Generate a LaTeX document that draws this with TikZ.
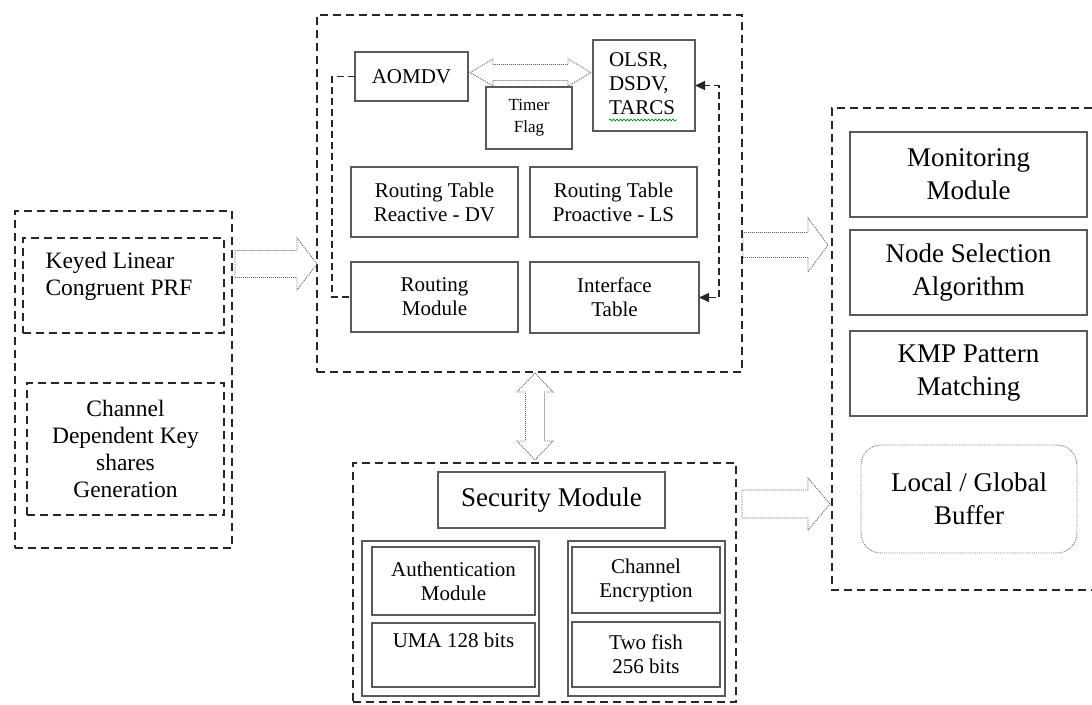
\documentclass[tikz,border=0pt]{standalone}
\usepackage{fontspec}
\setmainfont{Liberation Serif}
\usetikzlibrary{arrows.meta,calc,decorations.pathmorphing}

% hollow block arrows: #1 start, #2 tip, #3 half shaft, #4 half head, #5 head length
\newcommand{\rblock}[5]{\draw[hollow] ($(#1)+(0,#3)$) -- ($(#2)+(-#5,#3)$) -- ($(#2)+(-#5,#4)$) -- (#2)
  -- ($(#2)+(-#5,-#4)$) -- ($(#2)+(-#5,-#3)$) -- ($(#1)+(0,-#3)$) -- cycle;}
\newcommand{\hdblock}[5]{\draw[hollow] (#1) -- ($(#1)+(#5,-#4)$) -- ($(#1)+(#5,-#3)$) -- ($(#2)+(-#5,-#3)$)
  -- ($(#2)+(-#5,-#4)$) -- (#2) -- ($(#2)+(-#5,#4)$) -- ($(#2)+(-#5,#3)$) -- ($(#1)+(#5,#3)$) -- ($(#1)+(#5,#4)$) -- cycle;}
\newcommand{\vdblock}[5]{\draw[hollow] (#1) -- ($(#1)+(#4,#5)$) -- ($(#1)+(#3,#5)$) -- ($(#2)+(#3,-#5)$)
  -- ($(#2)+(#4,-#5)$) -- (#2) -- ($(#2)+(-#4,-#5)$) -- ($(#2)+(-#3,-#5)$) -- ($(#1)+(-#3,#5)$) -- ($(#1)+(-#4,#5)$) -- cycle;}

\begin{document}
\begin{tikzpicture}[x=1pt,y=-1pt,
    box/.style={draw=black!65, line width=1.1pt, inner sep=0pt, outer sep=0pt, align=center},
    grp/.style={draw=black!85, line width=1.8pt, dash pattern=on 8pt off 5pt, inner sep=0pt, outer sep=0pt, align=center},
    dashline/.style={draw=black!85, line width=1.4pt, dash pattern=on 7pt off 4pt},
    hollow/.style={draw=black!60, line width=0.9pt, dash pattern=on 1pt off 1pt},
    tiny/.style={font=\fontsize{17}{22}\selectfont},
    small/.style={font=\fontsize{21}{24}\selectfont},
    mid/.style={font=\fontsize{23.5}{27}\selectfont},
    big/.style={font=\fontsize{27}{33}\selectfont},
    >={Triangle[length=10pt,width=9pt]}]
\useasboundingbox (0,0) rectangle (1092,704);

% key generation
\node[grp, minimum width=217pt, minimum height=337pt] (keygrp) at (123.5,379.5) {};
\node[grp, mid, minimum width=201pt, minimum height=95pt] (keyprf) at (123.5,285.5) {};
\node[mid, align=left] at (119,276) {Keyed Linear\\Congruent PRF};
\node[grp, mid, minimum width=197pt, minimum height=132pt] (keyshare) at (125.5,449)
  {Channel\\Dependent Key\\shares\\Generation};

% routing
\node[grp, minimum width=425pt, minimum height=357pt] (routegrp) at (529.5,193.5) {};
\node[box, small, minimum width=113pt, minimum height=49pt] (aomdv) at (411.5,76.5) {AOMDV};
\node[box, small, minimum width=102pt, minimum height=91pt] (olsr) at (644,85.5) {};
\node[small, align=left] at (642,84) {OLSR,\\DSDV,\\TARCS};
\node[box, tiny, minimum width=86pt, minimum height=62pt] (timer) at (529,118) {Timer\\Flag};
\node[box, small, minimum width=167pt, minimum height=70pt] (rtreact) at (434.5,202) {Routing Table\\Reactive - DV};
\node[box, small, minimum width=167pt, minimum height=70pt] (rtpro) at (613.5,202) {Routing Table\\Proactive - LS};
\node[box, small, minimum width=167pt, minimum height=70pt] (routmod) at (434.5,297) {Routing\\Module};
\node[box, small, minimum width=169pt, minimum height=71pt] (iface) at (614.5,297.5) {Interface\\Table};
\draw[green!55!black, line width=0.7pt, decorate, decoration={snake, amplitude=0.9pt, segment length=3.5pt}]
  (609,120) -- (677,120);

\draw[dashline] (aomdv.west) -- ++(-23,0) |- (routmod.west);
\draw[dashline, <->] (iface.east) -- ++(20,0) |- (olsr.east);

% security
\node[grp, minimum width=383pt, minimum height=239pt] (secgrp) at (544.5,582.5) {};
\node[box, font=\fontsize{27}{30}\selectfont, minimum width=227pt, minimum height=56pt] (secmod) at (551.5,500) {Security Module};
\node[box, minimum width=177pt, minimum height=155pt] (authgrp) at (450.5,618.5) {};
\node[box, small, minimum width=163pt, minimum height=68pt] (auth) at (453.5,581) {Authentication\\Module};
\node[box, small, minimum width=163pt, minimum height=64pt, text height=14pt, text depth=30pt] (uma) at (453.5,655) {UMA 128 bits};
\node[box, minimum width=157pt, minimum height=155pt] (encgrp) at (646.5,618.5) {};
\node[box, small, minimum width=148pt, minimum height=66pt] (enc) at (646,580) {Channel\\Encryption};
\node[box, small, minimum width=148pt, minimum height=65pt] (fish) at (646,654.5) {Two fish\\256 bits};

% monitoring
\coordinate (monitl) at (1092,108);
\coordinate (monibl) at (1092,590);
\draw[grp] (monitl) -- (832,108) -- (832,590) -- (monibl);
\node[box, big, minimum width=237pt, minimum height=85pt] (monitor) at (968.5,174.5) {Monitoring\\Module};
\node[box, big, minimum width=237pt, minimum height=85pt] (nodesel) at (968.5,272.5) {Node Selection\\Algorithm};
\node[box, big, minimum width=237pt, minimum height=85pt] (kmp) at (968.5,373.5) {KMP Pattern\\Matching};
\node[draw=black!55, line width=0.9pt, densely dotted, rounded corners=20pt, big, align=center,
  minimum width=216pt, minimum height=108pt, inner sep=0pt] (buffer) at (969,499) {Local / Global\\Buffer};

% block arrows
\coordinate (a1s) at (235,264);  \coordinate (a1t) at (317,264);
\coordinate (a2s) at (743,245);  \coordinate (a2t) at (828,245);
\coordinate (a3s) at (742,504);  \coordinate (a3t) at (830,504);
\coordinate (dhl) at ($(aomdv.east)+(2,-4)$);
\coordinate (dhr) at ($(olsr.west |- dhl)+(-2,0)$);
\coordinate (dvt) at (535,373);  \coordinate (dvb) at (535,460);
\rblock{a1s}{a1t}{13.5}{26}{20}
\rblock{a2s}{a2t}{12.5}{27}{20}
\rblock{a3s}{a3t}{14}{26}{22}
\hdblock{dhl}{dhr}{8}{13.5}{23}
\vdblock{dvt}{dvb}{9.5}{18}{19}
\end{tikzpicture}
\end{document}
